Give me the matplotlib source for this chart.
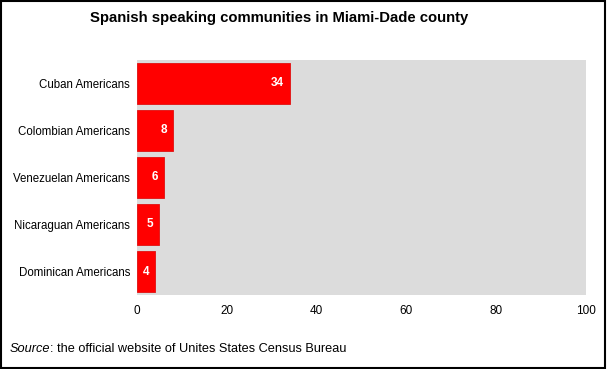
import matplotlib
matplotlib.use('Agg')
import matplotlib.pyplot as plt
from matplotlib.patches import Rectangle

matplotlib.rcParams['font.family'] = ['Liberation Sans', 'DejaVu Sans']

communities = ['Cuban Americans', 'Colombian Americans', 'Venezuelan Americans',
               'Nicaraguan Americans', 'Dominican Americans']
percent = [34, 8, 6, 5, 4]
x_ticks = [0, 20, 40, 60, 80, 100]

fig = plt.figure(figsize=(6.07, 3.69), dpi=100)
ax = fig.add_axes([0.2257, 0.2005, 0.7397, 0.6370])
ax.set_facecolor('#dcdcdc')

pos = list(range(len(communities)))[::-1]
ax.barh(pos, percent, height=0.89, color='#ff0000', edgecolor='#e01010', linewidth=0.6)

# value labels inside the bars
for p, v in zip(pos, percent):
    ax.text(v - 1.3, p, str(v), ha='right', va='center', color='white',
            fontsize=8.5, fontweight='bold')

ax.set_yticks(pos)
ax.set_yticklabels(communities, fontsize=8.3)
ax.set_xticks(x_ticks)
ax.set_xticklabels([str(t) for t in x_ticks], fontsize=8.5)
ax.set_xlim(0, 100)
ax.set_ylim(-0.5, len(communities) - 0.5)
ax.tick_params(length=0, pad=5)
ax.tick_params(axis='x', pad=7)
for s in ax.spines.values():
    s.set_visible(False)

fig.text(0.46, 0.95, 'Spanish speaking communities in Miami-Dade county',
         ha='center', va='center', fontsize=10.7, fontweight='bold')
src = fig.text(0.016, 0.046, 'Source', style='italic', fontsize=9.2,
               ha='left', va='baseline')
ax.annotate(': the official website of Unites States Census Bureau', xy=(1, 0),
            xycoords=src, fontsize=9.2, ha='left', va='bottom')

fig.patches.append(Rectangle((0.002, 0.003), 0.995, 0.994, transform=fig.transFigure,
                             fill=False, edgecolor='black', linewidth=1.5))

fig.savefig('out.png', dpi=100)
